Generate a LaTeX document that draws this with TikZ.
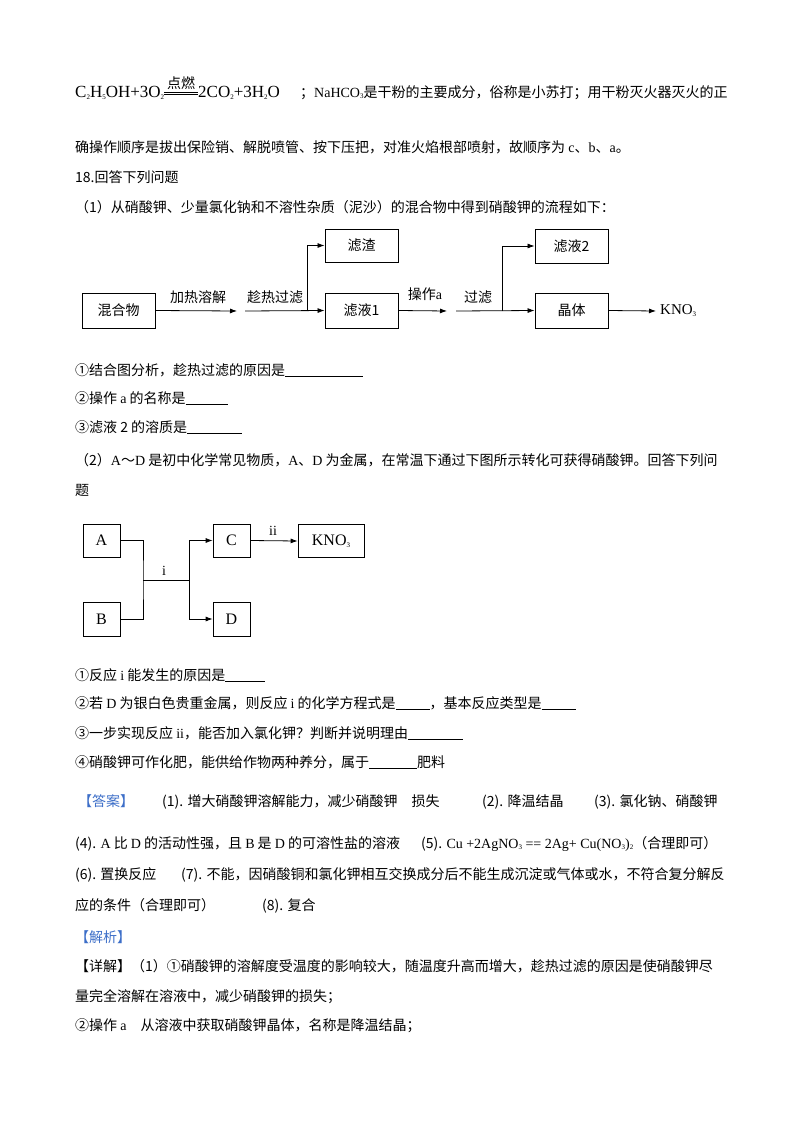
\documentclass[tikz,border=0pt]{standalone}
\usepackage{fontspec}
\setmainfont{Liberation Serif}
\newfontfamily\cjk{Noto Sans CJK SC}
\usetikzlibrary{arrows.meta}
\newcommand{\sbs}[1]{\raisebox{-0.3ex}{\scriptsize #1}}
\newcommand{\dianran}{\raisebox{0.25ex}{\shortstack{{\cjk\fontsize{14}{14}\selectfont 点燃}\\[-1pt]\rule{34pt}{0.7pt}\\[-1pt]\rule{34pt}{0.7pt}}}}
\begin{document}
\begin{tikzpicture}[x=1pt,y=-1pt,
  txt/.style={anchor=base west,inner sep=0,font=\cjk\fontsize{14}{16}\selectfont},
  bx/.style={draw,line width=0.9pt,inner sep=0,font=\cjk\fontsize{14}{16}\selectfont},
  lb/.style={inner sep=0,font=\cjk\fontsize{14}{16}\selectfont},
  ar/.style={line width=0.8pt,-{Latex[length=7pt,width=5pt]}},
  ln/.style={line width=0.8pt}]
\useasboundingbox[fill=white] (0,0) rectangle (800,1132);
% top
\node[anchor=base west,inner sep=0,font=\fontsize{17}{18}\selectfont] (eq) at (75,97) {C\sbs{2}H\sbs{5}OH+3O\sbs{2}\dianran 2CO\sbs{2}+3H\sbs{2}O};
\node[txt] (t1) at (300,97) {；{\rmfamily NaHCO\sbs{3}}是干粉的主要成分，俗称是小苏打；用干粉灭火器灭火的正};
\node[txt] (t2) at (75,152) {确操作顺序是拔出保险销、解脱喷管、按下压把，对准火焰根部喷射，故顺序为 {\rmfamily c}、{\rmfamily b}、{\rmfamily a}。};
\node[txt] (t3) at (75,182) {18.回答下列问题};
\node[txt] (t4) at (75,212) {（1）从硝酸钾、少量氯化钠和不溶性杂质（泥沙）的混合物中得到硝酸钾的流程如下：};
% diagram 1
\node[bx,minimum width=73,minimum height=35] (m) at (118.5,310.5) {混合物};
\node[bx,minimum width=73,minimum height=33] (zz) at (361.5,245.5) {滤渣};
\node[bx,minimum width=73,minimum height=35] (l1) at (361.5,310.5) {滤液1};
\node[bx,minimum width=73,minimum height=34] (l2) at (571.5,246) {滤液2};
\node[bx,minimum width=73,minimum height=35] (jt) at (571.5,310.5) {晶体};
\node[inner sep=0,font=\fontsize{15}{16}\selectfont,anchor=west] (k) at (660,311) {KNO\sbs{3}};
\coordinate (p1) at (237,311);
\coordinate (p2) at (245,311);
\coordinate (j1) at (307,311);
\coordinate (p3) at (447,311);
\coordinate (p4) at (456,311);
\coordinate (j2) at (502,311);
\coordinate (pk) at (656,311);
\draw[ar] (m.east) -- (p1);
\draw[ar] (p2) -- (l1.west);
\draw[ar] (j1) |- (zz.west);
\draw[ar] (l1.east) -- (p3);
\draw[ar] (p4) -- (jt.west);
\draw[ar] (j2) |- (l2.west);
\draw[ar] (jt.east) -- (pk);
\node[lb] (a1) at (198,297) {加热溶解};
\node[lb] (a2) at (275,297) {趁热过滤};
\node[lb] (a3) at (425,294) {操作{\rmfamily a}};
\node[lb] (a4) at (478,297) {过滤};
% questions
\node[txt] (q1) at (75,375) {①结合图分析，趁热过滤的原因是\underline{\hspace{78pt}}};
\node[txt] (q2) at (75,403) {②操作 {\rmfamily a} 的名称是\underline{\hspace{42pt}}};
\node[txt] (q3) at (75,432) {③滤液 2 的溶质是\underline{\hspace{55pt}}};
\node[txt] (q4) at (75,465) {（2）{\rmfamily A}～{\rmfamily D} 是初中化学常见物质，{\rmfamily A}、{\rmfamily D} 为金属，在常温下通过下图所示转化可获得硝酸钾。回答下列问};
\node[txt] (q5) at (75,495) {题};
% diagram 2
\tikzset{bx2/.style={draw,line width=0.7pt,inner sep=0,font=\fontsize{16}{16}\selectfont}}
\node[bx2,minimum width=37,minimum height=33] (A) at (101.5,540.5) {A};
\node[bx2,minimum width=37,minimum height=34] (B) at (101.5,619) {B};
\node[bx2,minimum width=37,minimum height=33] (C) at (231.5,540.5) {C};
\node[bx2,minimum width=37,minimum height=34] (D) at (231.5,619) {D};
\node[bx2,minimum width=66,minimum height=33] (K) at (331,541) {KNO\sbs{3}};
\coordinate (ja) at (143,580);
\coordinate (jb) at (189,580);
\draw[ln] (A.east) -| (ja) |- (B.east);
\draw[ln] (ja) -- (jb);
\draw[ar] (jb) |- (C.west);
\draw[ar] (jb) |- (D.west);
\draw[ar] (C.east) -- (K.west);
\node[lb,font=\fontsize{14}{14}\selectfont] (li) at (164,571) {i};
\node[lb,font=\fontsize{14}{14}\selectfont] (lii) at (273,531) {ii};
% questions 2
\node[txt] (r1) at (75,680) {①反应 {\rmfamily i} 能发生的原因是\underline{\hspace{40pt}}};
\node[txt] (r2) at (75,708) {②若 {\rmfamily D} 为银白色贵重金属，则反应 {\rmfamily i} 的化学方程式是\underline{\hspace{34pt}}，基本反应类型是\underline{\hspace{34pt}}};
\node[txt] (r3) at (75,738) {③一步实现反应 {\rmfamily ii}，能否加入氯化钾？判断并说明理由\underline{\hspace{55pt}}};
\node[txt] (r4) at (75,767) {④硝酸钾可作化肥，能供给作物两种养分，属于\underline{\hspace{48pt}}肥料};
% answers
\node[txt,text={rgb,255:red,60;green,110;blue,200}] (ans) at (78,806) {【答案】};
\node[txt] (s1) at (162,806) {(1). 增大硝酸钾溶解能力，减少硝酸钾\quad 损失};
\node[txt] (s2) at (482,806) {(2). 降温结晶};
\node[txt] (s3) at (594,806) {(3). 氯化钠、硝酸钾};
\node[txt] (s4) at (75,848) {(4). {\rmfamily A} 比 {\rmfamily D} 的活动性强，且 {\rmfamily B} 是 {\rmfamily D} 的可溶性盐的溶液};
\node[txt] (s5) at (421,848) {(5). {\rmfamily Cu +2AgNO\sbs{3} == 2Ag+ Cu(NO\sbs{3})\sbs{2}}（合理即可）};
\node[txt] (s6) at (75,879) {(6). 置换反应};
\node[txt] (s7) at (181,879) {(7). 不能，因硝酸铜和氯化钾相互交换成分后不能生成沉淀或气体或水，不符合复分解反};
\node[txt] (s8) at (75,910) {应的条件（合理即可）};
\node[txt] (s9) at (262,910) {(8). 复合};
\node[txt,text={rgb,255:red,60;green,110;blue,200}] (jx) at (75,942) {【解析】};
\node[txt] (d1) at (75,971) {【详解】（1）①硝酸钾的溶解度受温度的影响较大，随温度升高而增大，趁热过滤的原因是使硝酸钾尽};
\node[txt] (d2) at (75,1001) {量完全溶解在溶液中，减少硝酸钾的损失；};
\node[txt] (d3) at (75,1030) {②操作 {\rmfamily a}\quad 从溶液中获取硝酸钾晶体，名称是降温结晶；};
\end{tikzpicture}
\end{document}
